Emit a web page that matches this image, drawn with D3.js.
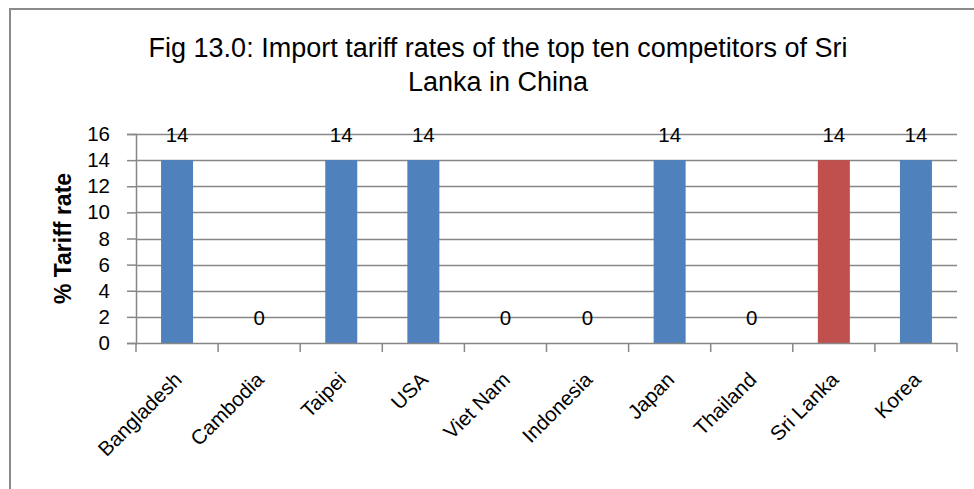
<!DOCTYPE html>
<html>
<head>
<meta charset="utf-8">
<script src="https://cdn.jsdelivr.net/npm/d3@7"></script>
<style>
  body { margin: 0; background: #fff; }
  svg { display: block; }
</style>
</head>
<body>
<div id="chart"></div>
<script>
'use strict';

// chart data
const countries = ['Bangladesh', 'Cambodia', 'Taipei', 'USA', 'Viet Nam', 'Indonesia', 'Japan', 'Thailand', 'Sri Lanka', 'Korea'];
const tariffRates = [14, 0, 14, 14, 0, 0, 14, 0, 14, 14];
const highlighted = ['Sri Lanka'];
const yTicks = [0, 2, 4, 6, 8, 10, 12, 14, 16];
const titleLines = ['Fig 13.0: Import tariff rates of the top ten competitors of Sri', 'Lanka in China'];
const yTitle = '% Tariff rate';

const dimensions = {
  width: 974,
  height: 489,
  margin: { top: 134, bottom: 146, left: 136, right: 17 }
};
dimensions.ctrWidth = dimensions.width - dimensions.margin.left - dimensions.margin.right;
dimensions.ctrHeight = dimensions.height - dimensions.margin.top - dimensions.margin.bottom;

const font = "'Liberation Sans', Arial, sans-serif";
const gridColor = '#878787';
const labelSize = '20.5px';

const svg = d3.select('#chart')
  .append('svg')
  .attr('width', dimensions.width)
  .attr('height', dimensions.height);

// outer chart frame (cut off at right and bottom in the original)
svg.append('rect')
  .attr('x', 10)
  .attr('y', 9)
  .attr('width', 1200)
  .attr('height', 800)
  .attr('fill', 'none')
  .attr('stroke', '#8a8a8a')
  .attr('stroke-width', 2);

// title
svg.append('g')
  .selectAll('text')
  .data(titleLines)
  .join('text')
  .attr('x', 498)
  .attr('y', (d, i) => 57 + i * 34)
  .attr('text-anchor', 'middle')
  .style('font-family', font)
  .style('font-size', '27px')
  .attr('fill', '#000')
  .text(d => d);

const chart_g = svg.append('g')
  .attr('transform', `translate(${dimensions.margin.left}, ${dimensions.margin.top})`);

const xScale = d3.scaleBand()
  .domain(countries)
  .range([0, dimensions.ctrWidth]);

const yScale = d3.scaleLinear()
  .domain([0, 16])
  .range([dimensions.ctrHeight, 0]);

// gridlines
chart_g.append('g')
  .selectAll('line')
  .data(yTicks.filter(d => d > 0))
  .join('line')
  .attr('x1', 0)
  .attr('x2', dimensions.ctrWidth)
  .attr('y1', d => Math.round(yScale(d)) + 0.5)
  .attr('y2', d => Math.round(yScale(d)) + 0.5)
  .attr('stroke', gridColor)
  .attr('stroke-width', 1.5);

// bars
const barWidth = 32;
chart_g.append('g')
  .selectAll('rect')
  .data(countries)
  .join('rect')
  .attr('x', (d) => xScale(d) + xScale.bandwidth() / 2 - barWidth / 2)
  .attr('y', (d, i) => yScale(tariffRates[i]))
  .attr('width', barWidth)
  .attr('height', (d, i) => dimensions.ctrHeight - yScale(tariffRates[i]))
  .attr('fill', d => highlighted.includes(d) ? '#C0504D' : '#4F81BD');

// bar labels
chart_g.append('g')
  .selectAll('text')
  .data(countries)
  .join('text')
  .attr('x', d => xScale(d) + xScale.bandwidth() / 2)
  .attr('y', (d, i) => yScale(tariffRates[i]) - 18)
  .attr('text-anchor', 'middle')
  .style('font-family', font)
  .style('font-size', labelSize)
  .attr('fill', '#000')
  .text((d, i) => tariffRates[i]);

// y axis
const yAxisGroup = chart_g.append('g')
  .call(d3.axisLeft(yScale).tickValues(yTicks).tickSize(9).tickPadding(17));
yAxisGroup.select('.domain').attr('stroke', gridColor).attr('stroke-width', 1.5);
yAxisGroup.selectAll('.tick line').attr('stroke', gridColor).attr('stroke-width', 1.5);
yAxisGroup.selectAll('.tick text')
  .style('font-family', font)
  .style('font-size', labelSize)
  .attr('fill', '#000');

// x axis with ticks at category boundaries
const xAxisGroup = chart_g.append('g')
  .attr('transform', `translate(0, ${dimensions.ctrHeight})`);
xAxisGroup.append('line')
  .attr('x1', 0)
  .attr('x2', dimensions.ctrWidth)
  .attr('y1', 0.5)
  .attr('y2', 0.5)
  .attr('stroke', gridColor)
  .attr('stroke-width', 1.5);
xAxisGroup.selectAll('.xtick')
  .data(countries.concat(['end']))
  .join('line')
  .attr('class', 'xtick')
  .attr('x1', (d, i) => i < countries.length ? xScale(d) : dimensions.ctrWidth)
  .attr('x2', (d, i) => i < countries.length ? xScale(d) : dimensions.ctrWidth)
  .attr('y1', 0)
  .attr('y2', 9)
  .attr('stroke', gridColor)
  .attr('stroke-width', 1.5);
xAxisGroup.selectAll('.xlabel')
  .data(countries)
  .join('text')
  .attr('class', 'xlabel')
  .attr('transform', d => `translate(${xScale(d) + xScale.bandwidth() / 2 + 6}, 38) rotate(-45)`)
  .attr('text-anchor', 'end')
  .style('font-family', font)
  .style('font-size', labelSize)
  .attr('fill', '#000')
  .text(d => d);

// y title
svg.append('text')
  .attr('transform', `translate(71, ${dimensions.margin.top + dimensions.ctrHeight / 2}) rotate(-90)`)
  .attr('text-anchor', 'middle')
  .style('font-family', font)
  .style('font-size', '23px')
  .style('font-weight', 'bold')
  .attr('fill', '#000')
  .text(yTitle);
</script>
</body>
</html>
